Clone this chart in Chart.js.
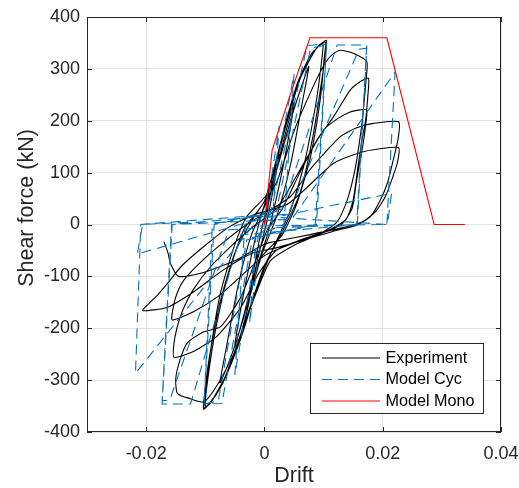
<!DOCTYPE html>
<html>
<head>
<meta charset="utf-8">
<script src="https://cdn.jsdelivr.net/npm/chart.js@4"></script>
<style>
  html, body { margin: 0; padding: 0; background: #fff; }
  canvas { display: block; }
</style>
</head>
<body>
<canvas id="c" width="519" height="488"></canvas>
<script>
// Axis ticks
const xTicks = [-0.02, 0, 0.02, 0.04];
const yTicks = [-400, -300, -200, -100, 0, 100, 200, 300, 400];
const seriesNames = ['Experiment', 'Model Cyc', 'Model Mono'];

// Experiment: measured drift / shear force, cycle by cycle
const expC1 = [[0,0],[0.0012,70],[0.0025,135],[0.0016,75],[0.0004,5],[-0.001,-60],[-0.0025,-135],[-0.0016,-75],[-0.0004,-5]];
const expC2 = [[0.0015,80],[0.0032,160],[0.005,235],[0.0038,150],[0.0022,60],[0.0005,-20],[-0.0018,-100],[-0.0035,-175],[-0.005,-235],[-0.0038,-150],[-0.0022,-60],[-0.0005,20]];
const expC3 = [[0.0022,110],[0.0048,215],[0.0075,305],[0.0064,235],[0.0045,120],[0.0022,20],[-0.0005,-60],[-0.003,-160],[-0.0055,-250],[-0.0075,-305],[-0.0064,-235],[-0.0045,-120],[-0.0022,-20]];
const expC4 = [[0.001,60],[0.003,170],[0.0055,270],[0.008,330],[0.0103,352],[0.0101,320],[0.0095,246],[0.0078,131],[0.0055,41],[0.003,-20],[-0.001,-70],[-0.003,-170],[-0.0055,-265],[-0.008,-325],[-0.0102,-354],[-0.0099,-320],[-0.0092,-250],[-0.0075,-135],[-0.0052,-45],[-0.003,15]];
const expC5 = [[0.0005,60],[0.0035,185],[0.006,280],[0.0085,335],[0.0099,350],[0.0097,318],[0.0088,240],[0.0068,120],[0.0045,30],[0.0015,-45],[-0.0015,-130],[-0.004,-220],[-0.007,-305],[-0.0092,-345],[-0.01,-350],[-0.0096,-300],[-0.0083,-205],[-0.0062,-100],[-0.0035,-10]];
const expC6 = [[0,45],[0.0028,160],[0.0058,275],[0.0088,340],[0.0105,355],[0.0103,330],[0.0096,270],[0.0082,170],[0.006,60],[0.0032,-10],[0,-80],[-0.0035,-195],[-0.0065,-290],[-0.009,-342],[-0.0103,-356],[-0.0101,-325],[-0.0093,-255],[-0.0075,-150],[-0.005,-55],[-0.002,10]];
const expC7 = [[0.002,80],[0.005,180],[0.008,260],[0.0102,310],[0.0115,328],[0.0128,336],[0.015,330],[0.0173,314],[0.0172,280],[0.0168,230],[0.0165,195],[0.0154,111],[0.014,47],[0.0123,5],[0.009,-20],[0.005,-40],[0.001,-70],[-0.002,-150],[-0.005,-245],[-0.008,-310],[-0.0102,-342],[-0.0125,-336],[-0.0147,-326],[-0.015,-298],[-0.0143,-262],[-0.0131,-229],[-0.0105,-208],[-0.0074,-197],[-0.004,-140],[-0.0015,-70],[0.0005,-10]];
const expC8 = [[0.003,30],[0.006,100],[0.009,165],[0.0117,208],[0.0145,259],[0.0163,276],[0.0176,282],[0.0175,250],[0.0171,200],[0.0165,163],[0.0158,110],[0.015,47],[0.0138,10],[0.011,-10],[0.006,-30],[0.002,-50],[-0.001,-95],[-0.004,-160],[-0.008,-215],[-0.012,-245],[-0.0153,-256],[-0.0153,-230],[-0.0148,-200],[-0.0138,-165],[-0.012,-125],[-0.009,-80],[-0.005,-35],[-0.002,-5]];
const expC9 = [[0.002,30],[0.0055,95],[0.01,182],[0.0125,205],[0.0145,217],[0.0162,221],[0.0173,221],[0.0171,190],[0.0166,150],[0.0156,86],[0.0148,30],[0.013,0],[0.009,-20],[0.004,-40],[0,-60],[-0.004,-100],[-0.008,-140],[-0.012,-168],[-0.0156,-184],[-0.0155,-165],[-0.015,-140],[-0.0138,-110],[-0.011,-75],[-0.007,-35],[-0.003,0]];
const expC10 = [[0.0044,54],[0.008,110],[0.0128,169],[0.0155,186],[0.0184,195],[0.0227,198],[0.0226,165],[0.0218,125],[0.0208,80],[0.0195,45],[0.0179,15],[0.0155,-2],[0.0123,-11],[0.0066,-30],[0.002,-45],[-0.002,-55],[-0.007,-88],[-0.012,-130],[-0.0165,-160],[-0.0206,-166],[-0.0195,-152],[-0.018,-135],[-0.0165,-115],[-0.014,-80],[-0.01,-40],[-0.006,-5],[-0.002,18]];
const expC11 = [[0.004,40],[0.0117,118],[0.016,138],[0.0195,146],[0.0227,148],[0.0225,120],[0.0218,95],[0.0205,55],[0.0188,25],[0.0165,5],[0.0125,-8],[0.0075,-20],[0.003,-30],[0,-38],[-0.005,-70],[-0.0108,-94],[-0.0145,-100],[-0.0159,-75],[-0.0163,-55],[-0.017,-33]];

// Cyclic model response
const modelCyc = [[0,0],
  [0.0025,190],[0.0013,0],[-0.0005,-15],[-0.0025,-190],[-0.0013,0],[0.0005,15],
  [0.005,290],[0.0033,0],[-0.001,-20],[-0.005,-290],[-0.0033,0],[0.001,20],
  [0.0072,345],[0.0105,348],[0.0086,0],[-0.002,-25],[-0.0072,-345],[-0.0102,-346],[-0.0085,0],[0.002,25],
  [0.0078,340],[0.0105,346],[0.0088,0],[-0.003,-30],[-0.0078,-340],[-0.0102,-346],[-0.0088,0],[0.003,30],
  [0.0123,346],[0.0173,346],[0.0156,0],[-0.004,-20],[-0.0125,-346],[-0.0173,-346],[-0.0156,0],[0.004,20],
  [0.016,338],[0.0173,340],[0.0157,0],[-0.006,-10],[-0.016,-338],[-0.0173,-340],[-0.0157,0],[0.0046,10],
  [0.0221,294],[0.0207,0],[-0.002,-3],[-0.0218,-287],[-0.0209,0],[-0.004,15],[0.003,17],
  [0.0215,60],[0.0208,0],[0.0005,15],[-0.0215,-57],[-0.0206,0],[-0.012,5]];

// Monotonic model envelope
const modelMono = [[0,0],[0.0013,143],[0.0045,255],[0.0077,360],[0.0207,360],[0.0287,0],[0.0339,0]];

const experiment = [].concat(expC1, expC2, expC3, expC4, expC5, expC6, expC7, expC8, expC9, expC10, expC11);
const toPts = arr => arr.map(([x, y]) => ({ x, y }));

const FONT = '"Liberation Sans", Arial, Helvetica, sans-serif';
const AXIS = '#262626';
const styles = [
  { color: '#000000', dash: [] },
  { color: '#0072BD', dash: [10, 6] },
  { color: '#FF0000', dash: [] }
];

// Box, inward ticks, axis titles and legend
const decorations = {
  id: 'decorations',
  afterDatasetsDraw(chart) {
    const { ctx, chartArea: a, scales: { x, y } } = chart;
    ctx.save();
    ctx.strokeStyle = AXIS;
    ctx.lineWidth = 1;
    ctx.beginPath();
    xTicks.forEach(v => {
      const px = Math.round(x.getPixelForValue(v)) + 0.5;
      ctx.moveTo(px, a.bottom); ctx.lineTo(px, a.bottom - 5);
      ctx.moveTo(px, a.top); ctx.lineTo(px, a.top + 5);
    });
    yTicks.forEach(v => {
      const py = Math.round(y.getPixelForValue(v)) + 0.5;
      ctx.moveTo(a.left, py); ctx.lineTo(a.left + 5, py);
      ctx.moveTo(a.right, py); ctx.lineTo(a.right - 5, py);
    });
    ctx.stroke();
    ctx.strokeRect(a.left + 0.5, a.top + 0.5, a.right - a.left - 1, a.bottom - a.top - 1);
    ctx.restore();
  },
  afterDraw(chart) {
    const { ctx, chartArea: a } = chart;
    ctx.save();
    ctx.fillStyle = AXIS;
    ctx.font = '21.5px ' + FONT;
    ctx.textAlign = 'center';
    ctx.textBaseline = 'alphabetic';
    ctx.fillText('Drift', (a.left + a.right) / 2, 482);
    ctx.translate(33, 208);
    ctx.rotate(-Math.PI / 2);
    ctx.fillText('Shear force (kN)', 0, 0);
    ctx.restore();

    // legend
    const L = 310, T = 343, W = 174, H = 71;
    ctx.save();
    ctx.fillStyle = '#fff';
    ctx.fillRect(L, T, W, H);
    ctx.strokeStyle = '#262626';
    ctx.lineWidth = 1;
    ctx.strokeRect(L + 0.5, T + 0.5, W - 1, H - 1);
    ctx.font = '16.2px ' + FONT;
    ctx.textAlign = 'left';
    ctx.textBaseline = 'middle';
    const rows = [357.5, 379, 400.5];
    seriesNames.forEach((name, i) => {
      ctx.strokeStyle = styles[i].color;
      ctx.setLineDash(styles[i].dash);
      ctx.lineWidth = 1.2;
      ctx.beginPath();
      ctx.moveTo(322, rows[i] + 0.5);
      ctx.lineTo(380, rows[i] + 0.5);
      ctx.stroke();
      ctx.setLineDash([]);
      ctx.fillStyle = '#000';
      ctx.fillText(name, 385.5, rows[i] + 1);
    });
    ctx.restore();
  }
};

const lineSet = (i, data, tension) => ({
  label: seriesNames[i],
  data: toPts(data),
  showLine: true,
  borderColor: styles[i].color,
  borderDash: styles[i].dash,
  borderWidth: 1.1,
  pointRadius: 0,
  pointHoverRadius: 0,
  tension: tension,
  order: 3 - i
});

new Chart(document.getElementById('c'), {
  type: 'scatter',
  data: {
    datasets: [
      lineSet(0, experiment, 0.2),
      lineSet(1, modelCyc, 0),
      lineSet(2, modelMono, 0)
    ]
  },
  options: {
    responsive: false,
    animation: false,
    devicePixelRatio: 1,
    layout: { padding: { left: 0, right: 18, top: 17, bottom: 0 } },
    plugins: { legend: { display: false }, tooltip: { enabled: false } },
    scales: {
      x: {
        type: 'linear', min: -0.03, max: 0.04,
        afterBuildTicks: s => { s.ticks = xTicks.map(v => ({ value: v })); },
        afterFit: s => { s.height = 56; s.paddingLeft = 0; s.paddingRight = 0; },
        grid: { color: '#e3e3e3', drawTicks: false },
        border: { display: false },
        ticks: { padding: 11, color: AXIS, autoSkip: false, maxRotation: 0, font: { family: FONT, size: 18 }, callback: v => String(v) }
      },
      y: {
        type: 'linear', min: -400, max: 400,
        afterBuildTicks: s => { s.ticks = yTicks.map(v => ({ value: v })); },
        afterFit: s => { s.width = 87; s.paddingTop = 0; s.paddingBottom = 0; },
        grid: { color: '#e3e3e3', drawTicks: false },
        border: { display: false },
        ticks: { padding: 7, color: AXIS, autoSkip: false, font: { family: FONT, size: 18 }, callback: v => String(v) }
      }
    }
  },
  plugins: [decorations]
});
</script>
</body>
</html>
